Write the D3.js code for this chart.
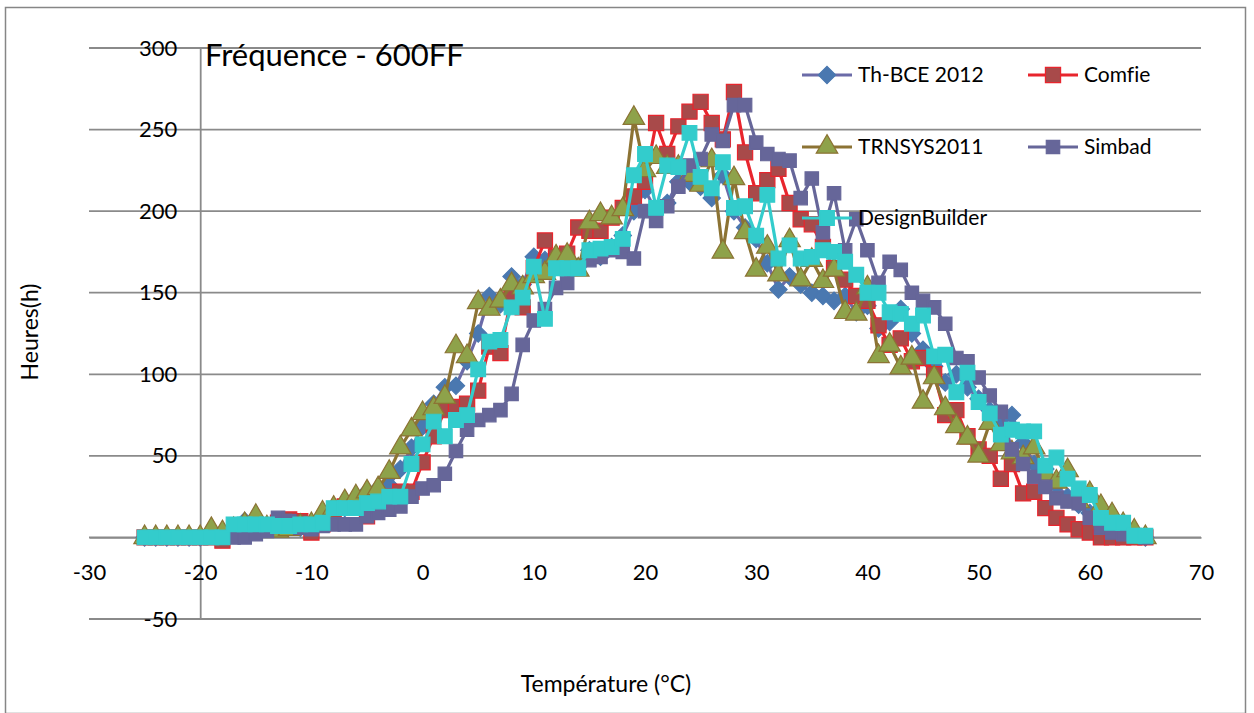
<!DOCTYPE html>
<html><head><meta charset="utf-8">
<script src="https://cdn.jsdelivr.net/npm/d3@7/dist/d3.min.js"></script>
<style>
body{margin:0;background:#fff;}
svg text{font-family:Lato,"Open Sans",sans-serif;fill:#000;font-variant-ligatures:none;}
</style></head>
<body><svg id="c" width="1254" height="713"></svg>
<script>
const temps = [-25,-24,-23,-22,-21,-20,-19,-18,-17,-16,-15,-14,-13,-12,-11,-10,-9,-8,-7,-6,-5,-4,-3,-2,-1,0,1,2,3,4,5,6,7,8,9,10,11,12,13,14,15,16,17,18,19,20,21,22,23,24,25,26,27,28,29,30,31,32,33,34,35,36,37,38,39,40,41,42,43,44,45,46,47,48,49,50,51,52,53,54,55,56,57,58,59,60,61,62,63,64,65];
const thbce = [0,0,0,0,0,0, 3,2,4,10,9,7,8,7,6,7, 10,15,18,22,28,30,32,42,55,68, 82,92,93,108,125,148,143,160,155,172, 170,168,170,166,176,172,178,185,200,213, 200,205,218,218,215,208,222,200,190,183, 168,152,160,155,150,148,145,148,138,142, 128,132,140,125,115,105,95,100,92,85, 78,72,75,58,45,42,32,25,20,15, 10,6,3,1,0];
const comfie = [0,0,0,0,0,0, 0,-2,2,5,6,7,9,11,10,3, 8,14,19,20,13,18,25,28,28,46, 62,78,80,82,90,117,113,148,141,165, 182,172,174,190,188,188,196,202,209,218, 254,235,252,261,267,254,244,273,236,211, 219,226,205,195,192,178,165,158,148,145, 130,118,122,108,110,100,75,78,62,54, 50,36,45,27,28,18,12,8,5,3, 0,0,0,0,0];
const trnsys = [0,0,0,0,0,0, 5,3,5,8,13,6,4,5,7,8, 15,18,22,25,28,30,40,55,66,76, 79,86,117,111,144,140,145,155,153,160, 162,172,173,164,193,198,196,201,257,225, 233,227,227,222,216,231,175,220,187,164, 178,161,182,158,170,157,164,138,137,153, 111,118,104,110,83,98,79,68,61,50, 70,57,52,49,55,39,34,41,22,27, 19,14,8,4,0];
const simbad = [0,0,0,0,0,0, 0,0,0,0,2,4,12,10,6,5, 7,8,8,8,13,15,17,19,25,30, 32,39,53,66,72,75,78,88,118,133, 140,153,156,165,170,172,176,175,171,200, 194,203,215,228,232,247,243,265,265,242, 235,232,231,208,220,187,211,176,195,176, 156,169,164,150,145,141,131,110,108,98, 87,77,54,45,37,31,24,22,21,12, 6,3,2,1,0];
const design = [0,0,0,0,0,0, 0,0,8,8,8,8,7,7,8,8, 9,18,18,18,21,22,25,25,45,57, 71,62,72,75,103,120,121,141,147,166, 134,165,165,165,176,177,178,183,222,235, 202,228,227,248,221,214,230,202,203,185, 210,171,179,171,172,176,175,169,161,150, 150,138,137,131,136,111,112,89,101,83, 76,63,66,65,65,44,49,36,30,26, 12,9,9,1,1];
const seriesNames = ["Th-BCE 2012","Comfie","TRNSYS2011","Simbad","DesignBuilder"];
const xTicks = [-30,-20,-10,0,10,20,30,40,50,60,70];
const yTicks = [-50,0,50,100,150,200,250,300];

const styles = [
  {line:"#6b6ba8", fill:"#4a78b0", stroke:"#4a78b0", shape:"diamond", size:150},
  {line:"#e8252d", fill:"#a84a4a", stroke:"#e8252d", shape:"square", size:230},
  {line:"#8c7334", fill:"#8ea24a", stroke:"#8c7334", shape:"triangle", size:200},
  {line:"#666699", fill:"#666699", stroke:"#666699", shape:"square", size:180},
  {line:"#33cccc", fill:"#33cccc", stroke:"#33cccc", shape:"square", size:215}
];
const data = [thbce, comfie, trnsys, simbad, design];

const svg = d3.select("#c");
svg.append("rect").attr("x",5.5).attr("y",7.5).attr("width",1240).attr("height",706)
  .attr("fill","none").attr("stroke","#868686").attr("stroke-width",1.5);

const x = d3.scaleLinear().domain([-30,70]).range([89,1201]);
const y = d3.scaleLinear().domain([-50,300]).range([619,48]);
const fmt = d => String(d);

svg.append("g").selectAll("line").data(yTicks).join("line")
  .attr("x1",x(-30)).attr("x2",x(70)).attr("y1",d=>y(d)).attr("y2",d=>y(d))
  .attr("stroke","#8a8a8a").attr("stroke-width",1.8);

const ya = svg.append("g").attr("transform",`translate(${x(-20)},0)`)
  .call(d3.axisLeft(y).tickValues(yTicks).tickFormat(fmt).tickSize(0).tickPadding(23));
ya.select(".domain").attr("stroke","#8a8a8a").attr("stroke-width",1.8);
ya.selectAll("text").style("font-size","22px").style("font-family","Lato");

const xa = svg.append("g").attr("transform",`translate(0,${y(0)})`)
  .call(d3.axisBottom(x).tickValues(xTicks).tickFormat(fmt).tickSize(0).tickPadding(27));
xa.select(".domain").attr("stroke","#8a8a8a").attr("stroke-width",1.8);
xa.selectAll("text").style("font-size","22px").style("font-family","Lato");

const symMap = {square:d3.symbolSquare, triangle:d3.symbolTriangle};
function sym(st){
  if(st.shape==="diamond") return d3.symbol().type(d3.symbolSquare).size(st.size)();
  return d3.symbol().type(symMap[st.shape]).size(st.size)();
}

const line = d3.line().x((d,i)=>x(temps[i])).y(d=>y(d));
data.forEach((vals,si)=>{
  const st = styles[si];
  const g = svg.append("g");
  g.append("path").datum(vals).attr("d",line).attr("fill","none")
    .attr("stroke",st.line).attr("stroke-width",3.2).attr("stroke-linejoin","round");
  g.selectAll("path.m").data(vals).join("path").attr("class","m")
    .attr("d",sym(st))
    .attr("transform",(d,i)=>`translate(${x(temps[i])},${y(d)})`+(st.shape==="diamond"?" rotate(45)":""))
    .attr("fill",st.fill).attr("stroke",st.stroke).attr("stroke-width",1.2);
});

svg.append("text").attr("x",205).attr("y",66).style("font-size","31px").text("Fréquence - 600FF");

const legPos = [[802,75],[1028,75],[802,147],[1028,147],[802,218]];
legPos.forEach((p,si)=>{
  const st = styles[si];
  const g = svg.append("g");
  g.append("line").attr("x1",p[0]).attr("x2",p[0]+50).attr("y1",p[1]).attr("y2",p[1])
    .attr("stroke",st.line).attr("stroke-width",3.2);
  g.append("path").attr("d",sym(st))
    .attr("transform",`translate(${p[0]+25},${p[1]})`+(st.shape==="diamond"?" rotate(45)":""))
    .attr("fill",st.fill).attr("stroke",st.stroke).attr("stroke-width",1.2);
  g.append("text").attr("x",p[0]+56).attr("y",p[1]).attr("dy","0.35em")
    .style("font-size","21px").text(seriesNames[si]);
});

svg.append("text").attr("transform","translate(38,332) rotate(-90)").attr("text-anchor","middle")
  .style("font-size","23px").text("Heures(h)");
svg.append("text").attr("x",606).attr("y",692).attr("text-anchor","middle")
  .style("font-size","23px").text("Température (°C)");
</script></body></html>
